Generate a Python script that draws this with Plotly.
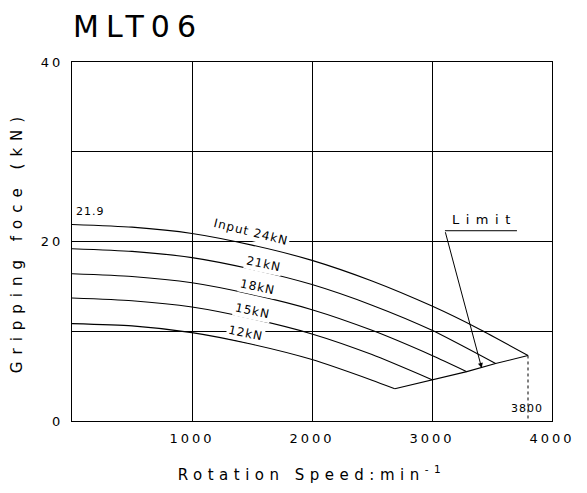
import plotly.graph_objects as go

# Data
speed_24 = [0, 500, 1000, 1500, 2000, 2500, 3000, 3400, 3800]
force_24 = [21.9, 21.6, 20.9, 19.6, 17.9, 15.6, 12.8, 10.2, 7.3]
speed_21 = [0, 500, 1000, 1500, 2000, 2500, 3000, 3530]
force_21 = [19.2, 18.9, 18.2, 16.9, 15.2, 12.9, 10.1, 6.4]
speed_18 = [0, 500, 1000, 1500, 2000, 2500, 3000, 3290]
force_18 = [16.4, 16.1, 15.4, 14.1, 12.4, 10.1, 7.3, 5.5]
speed_15 = [0, 500, 1000, 1500, 2000, 2500, 3000]
force_15 = [13.7, 13.4, 12.7, 11.4, 9.7, 7.4, 4.6]
speed_12 = [0, 500, 1000, 1500, 2000, 2500, 2690]
force_12 = [10.85, 10.6, 9.85, 8.55, 6.85, 4.55, 3.6]
limit_speed = [2690, 3000, 3290, 3530, 3800]
limit_force = [3.6, 4.6, 5.5, 6.4, 7.3]
max_speed = 3800
max_speed_force = 7.3
start_force_label = "21.9"

series_labels = ["Input 24kN", "21kN", "18kN", "15kN", "12kN"]
label_x = [1492, 1596, 1546, 1504, 1442]
label_y = [21.1, 17.45, 14.9, 12.3, 9.75]

x_tickvals = [0, 1000, 2000, 3000, 4000]
x_ticktext = ["", "1000", "2000", "3000", "4000"]
y_tickvals = [0, 10, 20, 30, 40]
y_ticktext = ["0", "", "20", "", "40"]

FONT = "DejaVu Sans"

def sp(t, px):
    return f'<span style="letter-spacing:{px}px">{t}</span>'

fig = go.Figure()
line = dict(color="black", width=1.1, shape="spline", smoothing=0.6)
for xs, ys in [(speed_24, force_24), (speed_21, force_21), (speed_18, force_18),
               (speed_15, force_15), (speed_12, force_12)]:
    fig.add_trace(go.Scatter(x=xs, y=ys, mode="lines", line=line, hoverinfo="skip"))

fig.add_trace(go.Scatter(x=limit_speed, y=limit_force, mode="lines",
                         line=dict(color="black", width=1.1), hoverinfo="skip"))
fig.add_trace(go.Scatter(x=[max_speed, max_speed], y=[max_speed_force, 0], mode="lines",
                         line=dict(color="black", width=1, dash="dot"), hoverinfo="skip"))
# Limit underline
fig.add_trace(go.Scatter(x=[3108, 3708], y=[21.2, 21.2], mode="lines",
                         line=dict(color="black", width=1), hoverinfo="skip"))

annotations = []
angles = [14, 12, 12, 12, 12]
for t, x, y, a in zip(series_labels, label_x, label_y, angles):
    annotations.append(dict(x=x, y=y, xref="x", yref="y", text=sp(t, 1), showarrow=False,
                            textangle=a, bgcolor="white", borderpad=1,
                            font=dict(family=FONT, size=12, color="black")))
annotations.append(dict(x=150, y=23.3, xref="x", yref="y", text=sp(start_force_label, 1),
                        showarrow=False, font=dict(family=FONT, size=11, color="black")))
annotations.append(dict(x=3790, y=1.35, xref="x", yref="y", text=sp(str(max_speed), 1),
                        showarrow=False, font=dict(family=FONT, size=11, color="black")))
annotations.append(dict(x=3440, y=22.5, xref="x", yref="y", text=sp("Limit", 6.5),
                        showarrow=False, font=dict(family=FONT, size=13, color="black")))
annotations.append(dict(x=3414, y=5.9, xref="x", yref="y", ax=3108, ay=21.2,
                        axref="x", ayref="y", text="", showarrow=True,
                        arrowhead=2, arrowsize=1, arrowwidth=1, arrowcolor="black"))

axis_common = dict(showline=True, linecolor="black", linewidth=1.2, mirror=True,
                   showgrid=True, gridcolor="black", gridwidth=1.1, zeroline=False,
                   ticks="", automargin=False, tickangle=0, ticklabelstandoff=5,
                   tickfont=dict(family=FONT, size=13, color="black"))

fig.update_layout(
    width=587, height=493,
    margin=dict(l=64, r=43, t=54, b=80),
    paper_bgcolor="white", plot_bgcolor="white",
    showlegend=False,
    title=dict(text=sp("MLT06", 7), x=65 / 587, xref="container", xanchor="left",
               y=1 - 8 / 493, yref="container", yanchor="top", automargin=False,
               font=dict(family=FONT, size=30, color="black")),
    xaxis=dict(range=[0, 4000], tickvals=x_tickvals,
               ticktext=[sp(t, 3) for t in x_ticktext],
               title=dict(text=sp("Rotation Speed:min<sup>-1</sup>", 5.5), standoff=24,
                          font=dict(family=FONT, size=15, color="black")),
               **axis_common),
    yaxis=dict(range=[0, 40], tickvals=y_tickvals,
               ticktext=[sp(t, 3) for t in y_ticktext],
               title=dict(text=sp("Gripping foce (kN)", 7), standoff=4,
                          font=dict(family=FONT, size=15, color="black")),
               **axis_common),
    annotations=annotations,
)

fig.write_html("out.html")
